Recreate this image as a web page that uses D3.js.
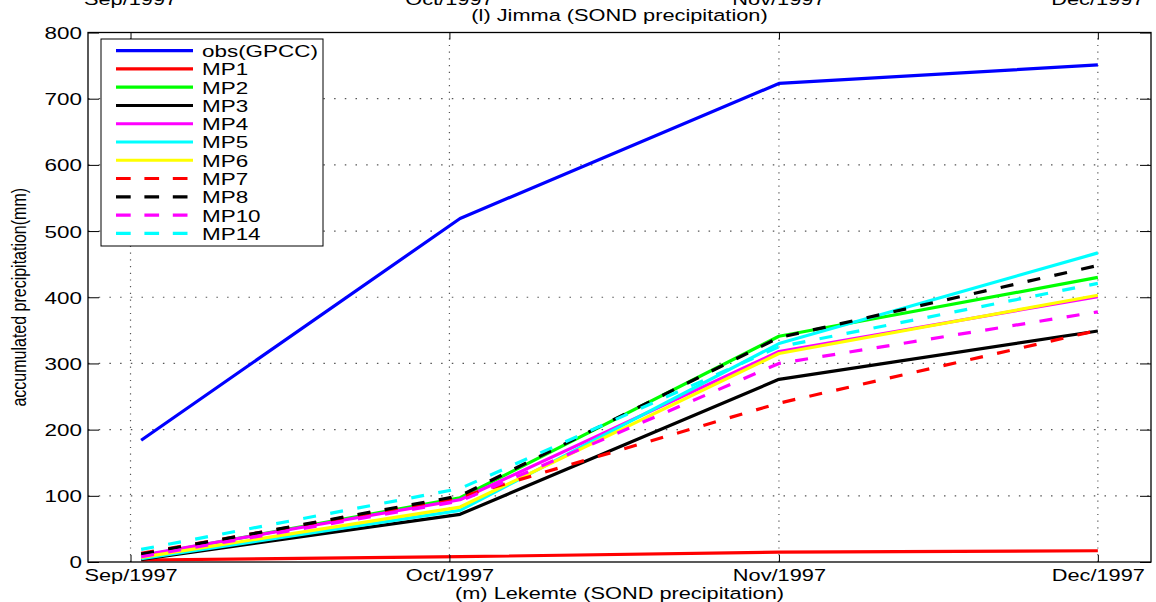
<!DOCTYPE html>
<html>
<head>
<meta charset="utf-8">
<script src="https://cdn.jsdelivr.net/npm/d3@7"></script>
<style>
  html, body { margin: 0; padding: 0; background: #fff; }
  svg { display: block; font-family: "Liberation Sans", Arial, Helvetica, sans-serif; }
</style>
</head>
<body>
<svg id="chart" width="1156" height="602"></svg>
<script>
// ---------------- data ----------------
const dates = ["1997-09-02", "1997-10-02", "1997-11-01", "1997-12-01"];
const tickDates = ["1997-09-01", "1997-10-01", "1997-11-01", "1997-12-01"];
const yTicks = [0, 100, 200, 300, 400, 500, 600, 700, 800];

const seriesNames = ["obs(GPCC)", "MP1", "MP2", "MP3", "MP4", "MP5", "MP6", "MP7", "MP8", "MP10", "MP14"];
const obs  = [184, 519, 723, 751];
const MP1  = [3, 8, 15, 17];
const MP2  = [9, 97, 341, 430];
const MP3  = [4, 72, 276, 349];
const MP4  = [10, 94, 318, 401];
const MP5  = [5, 78, 330, 467];
const MP6  = [7, 83, 315, 403];
const MP7  = [13, 98, 240, 350];
const MP8  = [12, 100, 339, 448];
const MP10 = [8, 92, 300, 378];
const MP14 = [19, 111, 325, 421];
const seriesValues = [obs, MP1, MP2, MP3, MP4, MP5, MP6, MP7, MP8, MP10, MP14];
const seriesColors = ["#0000ff", "#ff0000", "#00ff00", "#000000", "#ff00ff", "#00ffff", "#ffff00",
                      "#ff0000", "#000000", "#ff00ff", "#00ffff"];
const seriesDashed = [false, false, false, false, false, false, false, true, true, true, true];

const titleTop = "(l) Jimma (SOND precipitation)";
const xLabel = "(m) Lekemte (SOND precipitation)";
const yLabel = "accumulated precipitation(mm)";

// ---------------- layout ----------------
const L = 88, R = 1151, T = 32.5, B = 562;
const SX = 1.32;          // horizontal stretch of text
const FS = 17;
const parse = d3.utcParse("%Y-%m-%d");

const x = d3.scaleUtc()
  .domain([Date.UTC(1997, 7, 28), Date.UTC(1997, 11, 6)])
  .range([L, R]);
const y = d3.scaleLinear().domain([0, 800]).range([B, T]);

const svg = d3.select("#chart");

svg.append("rect").attr("width", 1156).attr("height", 602).attr("fill", "#fff");

// grid
const grid = svg.append("g");
grid.selectAll("line.hg").data(yTicks.slice(1, -1)).join("line")
  .attr("x1", L).attr("x2", R)
  .attr("y1", d => y(d)).attr("y2", d => y(d))
  .attr("stroke", "#555").attr("stroke-width", 1.2)
  .attr("stroke-dasharray", "1.5,9.2");
grid.selectAll("line.vg").data(tickDates.map(parse)).join("line")
  .attr("x1", d => x(d)).attr("x2", d => x(d))
  .attr("y1", B).attr("y2", T)
  .attr("stroke", "#555").attr("stroke-width", 1.2)
  .attr("stroke-dasharray", "1.2,5.5");

// series lines
const line = d3.line().x((d, i) => x(parse(dates[i]))).y(d => y(d));
const lines = svg.append("g");
seriesValues.forEach((vals, k) => {
  lines.append("path")
    .attr("d", line(vals))
    .attr("fill", "none")
    .attr("stroke", seriesColors[k])
    .attr("stroke-width", 3.2)
    .attr("stroke-linejoin", "round")
    .attr("stroke-dasharray", seriesDashed[k] ? "13,14.5" : null);
});

// axes
const fmt = d3.utcFormat("%b/%Y");
const gx = svg.append("g").attr("transform", `translate(0,${B})`)
  .call(d3.axisBottom(x).tickValues(tickDates.map(parse)).tickSizeInner(-7).tickSizeOuter(0).tickFormat(fmt));
gx.selectAll("text")
  .attr("y", null).attr("dy", null)
  .attr("transform", `translate(0,13.5) scale(${SX},1)`)
  .attr("dominant-baseline", "central")
  .attr("font-size", FS - 0.5).attr("fill", "#000").attr("font-family", null);

const gxt = svg.append("g").attr("transform", `translate(0,${T})`)
  .call(d3.axisTop(x).tickValues(tickDates.map(parse)).tickSizeInner(-7).tickSizeOuter(0).tickFormat(""));

const gy = svg.append("g").attr("transform", `translate(${L},0)`)
  .call(d3.axisLeft(y).tickValues(yTicks).tickSizeInner(-11).tickSizeOuter(0).tickFormat(d3.format("d")));
gy.selectAll("text")
  .attr("x", null).attr("dy", null)
  .attr("transform", `translate(-6,0) scale(${SX},1)`)
  .attr("dominant-baseline", "central")
  .attr("font-size", FS).attr("fill", "#000").attr("font-family", null);

const gyr = svg.append("g").attr("transform", `translate(${R},0)`)
  .call(d3.axisRight(y).tickValues(yTicks).tickSizeInner(-11).tickSizeOuter(0).tickFormat(""));

[gx, gxt, gy, gyr].forEach(g => {
  g.select(".domain").remove();
  g.selectAll(".tick line").attr("stroke", "#000").attr("stroke-width", 1);
});

// axes box
svg.append("rect").attr("x", L).attr("y", T).attr("width", R - L).attr("height", B - T)
  .attr("fill", "none").attr("stroke", "#000").attr("stroke-width", 1.3);

// previous subplot tick labels (clipped at top, as in the source figure)
svg.append("g").selectAll("text").data(tickDates.map(parse)).join("text")
  .attr("transform", d => `translate(${x(d)},5) scale(${SX},1)`)
  .attr("text-anchor", "middle")
  .attr("font-size", FS - 0.5)
  .text(fmt);

// title (xlabel of previous subplot)
svg.append("text")
  .attr("transform", `translate(${(L + R) / 2},15) scale(${SX},1)`)
  .attr("text-anchor", "middle").attr("dominant-baseline", "central")
  .attr("font-size", FS - 0.5).text(titleTop);

// x label
svg.append("text")
  .attr("transform", `translate(${(L + R) / 2},593.5) scale(${SX},1)`)
  .attr("text-anchor", "middle").attr("dominant-baseline", "central")
  .attr("font-size", FS - 0.5).text(xLabel);

// y label
svg.append("text")
  .attr("transform", `translate(19,${(T + B) / 2}) rotate(-90) scale(1,${SX})`)
  .attr("text-anchor", "middle").attr("dominant-baseline", "central")
  .attr("font-size", FS - 1).text(yLabel);

// legend
const lg = svg.append("g");
const LX = 101, LY = 39, LW = 222, LH = 207;
lg.append("rect").attr("x", LX).attr("y", LY).attr("width", LW).attr("height", LH)
  .attr("fill", "#fff").attr("stroke", "#000").attr("stroke-width", 1);
seriesNames.forEach((name, k) => {
  const ry = 50.7 + k * 18.26;
  lg.append("line").attr("x1", 116).attr("x2", 193).attr("y1", ry).attr("y2", ry)
    .attr("stroke", seriesColors[k]).attr("stroke-width", 3.2)
    .attr("stroke-dasharray", seriesDashed[k] ? "14.7,13.7" : null);
  lg.append("text")
    .attr("transform", `translate(202,${ry + 0.5}) scale(${SX},1)`)
    .attr("dominant-baseline", "central")
    .attr("font-size", FS).text(name);
});
</script>
</body>
</html>
